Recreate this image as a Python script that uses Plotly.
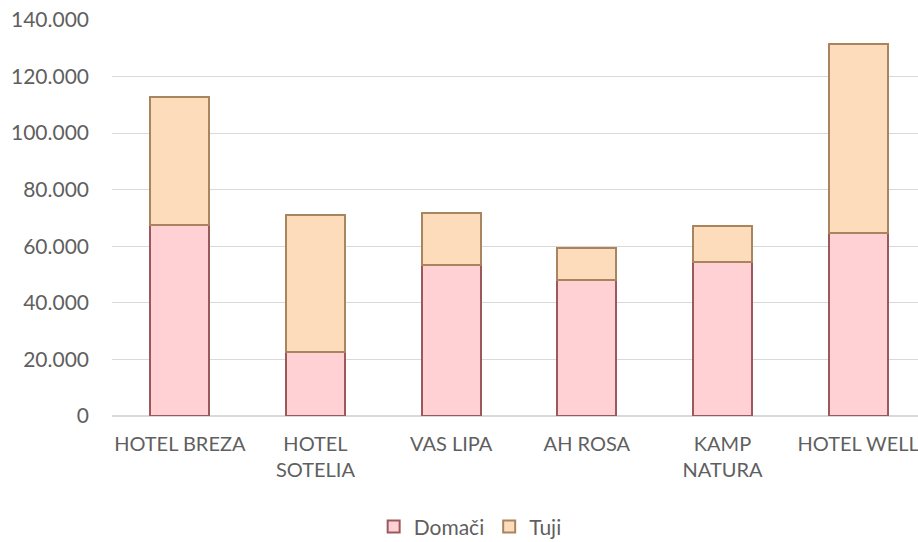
import plotly.graph_objects as go

categories = ["HOTEL BREZA", "HOTEL<br>SOTELIA", "VAS LIPA", "AH ROSA", "KAMP<br>NATURA", "HOTEL WELL"]
domaci = [67500, 22800, 53400, 48200, 54500, 64700]
tuji = [45300, 48200, 18500, 11100, 12700, 66800]
tick_vals = [0, 20000, 40000, 60000, 80000, 100000, 120000, 140000]

font_family = "Lato, sans-serif"
text_color = "#5f5f5f"

fig = go.Figure()
fig.add_trace(go.Bar(
    x=categories, y=domaci, name="Domači",
    marker=dict(color="#ffd0d4", line=dict(color="#9a5a5c", width=2)),
))
fig.add_trace(go.Bar(
    x=categories, y=tuji, name="Tuji",
    marker=dict(color="#fddcbc", line=dict(color="#a8845f", width=2)),
))

fig.update_layout(
    barmode="stack",
    bargap=0.565,
    width=926, height=550,
    margin=dict(l=112, r=0, t=20, b=134),
    paper_bgcolor="white", plot_bgcolor="white",
    separators=",.",
    font=dict(family=font_family, size=21, color=text_color),
    showlegend=True,
    legend=dict(orientation="h", x=0.44, xanchor="center", y=-0.28, yanchor="middle",
                font=dict(size=21, color=text_color), traceorder="normal",
                itemwidth=30, tracegroupgap=0),
    xaxis=dict(showgrid=False, showline=False, ticks="", ticklabelstandoff=14,
               tickfont=dict(size=20, color=text_color)),
    yaxis=dict(range=[0, 140000], tickvals=tick_vals, tickformat=",d",
               showgrid=True, gridcolor="#d9d9d9", gridwidth=1, zeroline=True,
               zerolinecolor="#d9d9d9", showline=False, ticks="",
               ticklabelstandoff=22,
               tickfont=dict(size=21, color=text_color)),
)

fig.write_html("out.html", config={"displayModeBar": False},
               post_script="document.body.style.margin='0';")
